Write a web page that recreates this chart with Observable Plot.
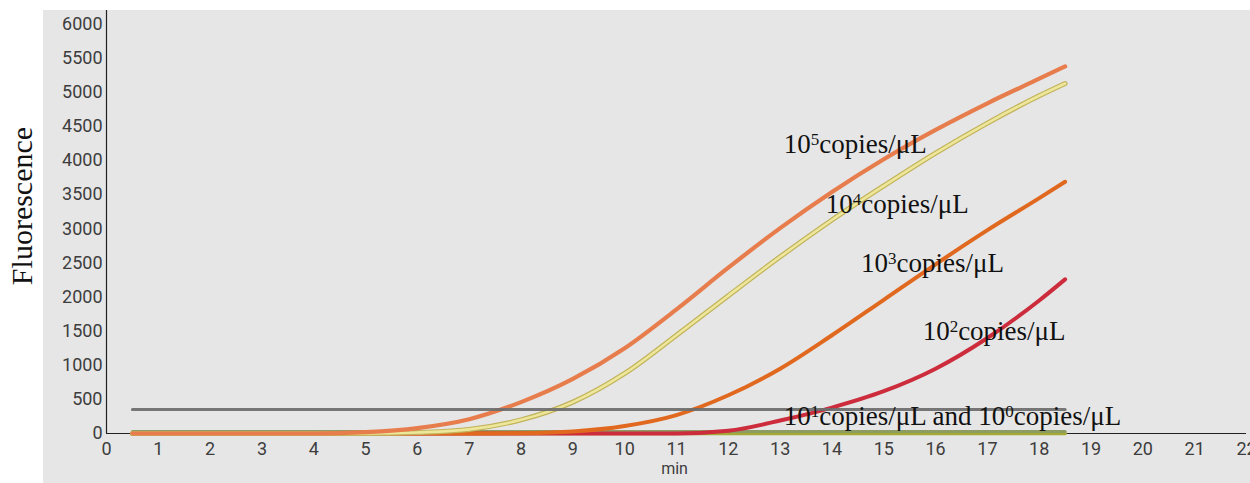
<!DOCTYPE html>
<html>
<head>
<meta charset="utf-8">
<script src="https://cdn.jsdelivr.net/npm/d3@7"></script>
<script src="https://cdn.jsdelivr.net/npm/@observablehq/plot@0.6"></script>
<style>
  html, body { margin: 0; padding: 0; background: #ffffff; }
  #chart { width: 1250px; height: 483px; }
  svg { display: block; }
</style>
</head>
<body>
<div id="chart"></div>
<script>
// ---- data ----
const times   = [0.5, 1, 2, 3, 4, 4.5, 5, 6, 7, 8, 9, 10, 11, 12, 13, 14, 15, 16, 17, 18, 18.5];
const conc1e5 = [0, 0, 0, 0, 0, 5, 20, 80, 210, 460, 800, 1250, 1820, 2430, 3010, 3540, 4020, 4450, 4840, 5200, 5380];
const conc1e4 = [0, 0, 0, 0, 0, 0, 0, 15, 60, 200, 460, 880, 1440, 2020, 2590, 3130, 3630, 4110, 4550, 4950, 5130];
const conc1e3 = [0, 0, 0, 0, 0, 0, 0, 0, 0, 5, 30, 110, 270, 560, 950, 1440, 1960, 2480, 2980, 3450, 3690];
const conc1e2 = [0, 0, 0, 0, 0, 0, 0, 0, 0, 0, 0, 0, 0, 40, 190, 380, 620, 950, 1400, 1950, 2260];
const conc1e1 = [30, 30, 30, 30, 30, 30, 30, 30, 30, 30, 30, 30, 30, 30, 30, 30, 30, 30, 30, 30, 30];
const conc1e0 = [0, 0, 0, 0, 0, 0, 0, 0, 0, 0, 0, 0, 0, 0, 0, 0, 0, 0, 0, 0, 0];
const thresholdTimes = [0.5, 18.5];
const thresholdValues = [350, 350];

const xTicks = d3.range(0, 23, 1);
const yTicks = d3.range(0, 6001, 500);

const annLabels = ["10⁵copies/μL", "10⁴copies/μL", "10³copies/μL", "10²copies/μL", "10¹copies/μL and 10⁰copies/μL"];
const annX = [13.07, 13.88, 14.56, 15.75, 13.07];
const annY = [4240, 3360, 2490, 1500, 250];

// ---- build tables ----
const series = (vals) => times.map((t, i) => ({t, v: vals[i]}));
const s5 = series(conc1e5), s4 = series(conc1e4), s3 = series(conc1e3), s2 = series(conc1e2);
const s1 = series(conc1e1), s0 = series(conc1e0);
const thr = thresholdTimes.map((t, i) => ({t, v: thresholdValues[i]}));
const ann = annLabels.map((label, i) => ({label, x: annX[i], y: annY[i]}));

const serif = "'Liberation Serif', 'Times New Roman', serif";
const annSize = 27;

const chart = Plot.plot({
  width: 1250,
  height: 483,
  marginLeft: 106,
  marginRight: 4,
  marginTop: 10,
  marginBottom: 50,
  style: {background: "transparent", fontFamily: "Roboto, sans-serif", overflow: "visible"},
  x: {domain: [0, 22]},
  y: {domain: [0, 6200]},
  marks: [
    Plot.axisX({ticks: xTicks, tickSize: 0, tickPadding: 9, fontSize: 18, fill: "#3d3d3d", label: null, tickFormat: d => String(d)}),
    Plot.axisY({ticks: yTicks, tickSize: 0, tickPadding: 4, fontSize: 18, fill: "#3d3d3d", label: null, tickFormat: d => String(d)}),
    Plot.ruleY([0], {stroke: "#222", strokeWidth: 1.2}),
    Plot.ruleX([0], {stroke: "#222", strokeWidth: 1.2}),
    Plot.lineY(s0, {x: "t", y: "v", stroke: "#a4aa34", strokeWidth: 3.5}),
    Plot.lineY(s1, {x: "t", y: "v", stroke: "#8c9c62", strokeWidth: 3}),
    Plot.lineY(s2, {x: "t", y: "v", stroke: "#cc2c3c", strokeWidth: 4, curve: "monotone-x"}),
    Plot.lineY(s3, {x: "t", y: "v", stroke: "#e0691f", strokeWidth: 4, curve: "monotone-x"}),
    Plot.lineY(s4, {x: "t", y: "v", stroke: "#c2b25a", strokeWidth: 5, curve: "monotone-x"}),
    Plot.lineY(s4, {x: "t", y: "v", stroke: "#ede79c", strokeWidth: 2.6, curve: "monotone-x"}),
    Plot.lineY(s5, {x: "t", y: "v", stroke: "#e77d4c", strokeWidth: 4.2, curve: "monotone-x"}),
    Plot.lineY(thr, {x: "t", y: "v", stroke: "#6c6c6c", strokeWidth: 3, strokeOpacity: 0.92}),
    Plot.text(ann, {x: "x", y: "y", text: "label", textAnchor: "start", lineAnchor: "middle", fontSize: annSize, fontFamily: serif, fill: "#111", className: "ann"}),
    Plot.text(["Fluorescence"], {frameAnchor: "left", textAnchor: "middle", dx: -84, dy: -16, rotate: -90, fontSize: 30, fontFamily: serif, fill: "#111"}),
    Plot.text(["min"], {frameAnchor: "bottom", textAnchor: "middle", dy: 40, dx: -2, fontSize: 16, fill: "#3d3d3d", fontFamily: "Roboto, sans-serif"})
  ]
});

// superscripts as real tspans (small raised digits)
const supMap = {"⁰": "0", "¹": "1", "²": "2", "³": "3", "⁴": "4", "⁵": "5"};
const shift = Math.round(annSize * 0.3);
d3.select(chart).selectAll("g.ann text").each(function () {
  const el = d3.select(this);
  const s = this.textContent;
  el.text(null);
  let buf = "", raised = false;
  const flush = () => {
    if (buf) {
      const t = el.append("tspan").text(buf);
      if (raised) t.attr("dy", shift);
      raised = false;
      buf = "";
    }
  };
  for (const ch of s) {
    if (supMap[ch]) {
      flush();
      el.append("tspan").text(supMap[ch]).attr("font-size", Math.round(annSize * 0.62)).attr("dy", -shift);
      raised = true;
    } else buf += ch;
  }
  flush();
});

// background panels (white strip at left, grey plotting surface)
const svg = d3.select(chart);
svg.insert("rect", ":first-child")
  .attr("x", 43).attr("y", 10).attr("width", 1207).attr("height", 473)
  .attr("fill", "#e6e6e6");
svg.insert("rect", ":first-child")
  .attr("x", 0).attr("y", 0).attr("width", 1250).attr("height", 483)
  .attr("fill", "#ffffff");

document.getElementById("chart").appendChild(chart);
</script>
</body>
</html>
